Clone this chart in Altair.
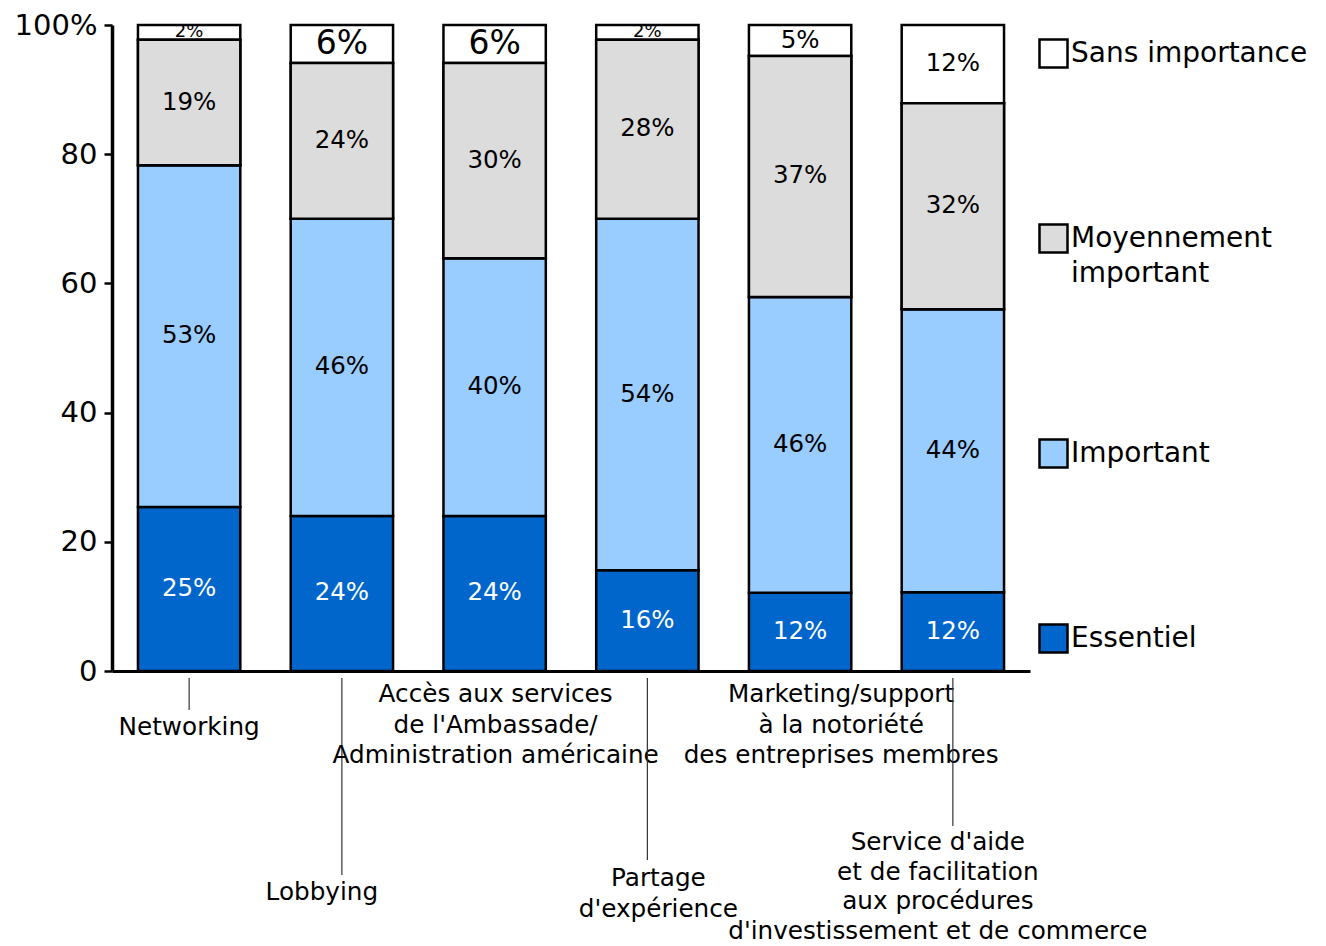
import altair as alt
import pandas as pd

# ---------------- data ----------------
categories = [
    "Networking",
    "Lobbying",
    "Accès aux services\nde l'Ambassade/\nAdministration américaine",
    "Partage\nd'expérience",
    "Marketing/support\nà la notoriété\ndes entreprises membres",
    "Service d'aide\net de facilitation\naux procédures\nd'investissement et de commerce",
]
levels = ["Essentiel", "Important", "Moyennement important", "Sans importance"]
essentiel = [25.4, 24.0, 24.0, 15.6, 12.1, 12.2]
important = [52.9, 46.0, 39.9, 54.4, 45.8, 43.8]
moyen = [19.4, 24.1, 30.2, 27.7, 37.3, 31.9]
sans = [2.3, 5.9, 5.9, 2.3, 4.8, 12.1]
y_ticks = [0, 20, 40, 60, 80, 100]

# ---------------- styles ----------------
FONT = "DejaVu Sans"
level_colors = {"Essentiel": "#0066CC", "Important": "#99CCFF",
                "Moyennement important": "#DCDCDC", "Sans importance": "#FFFFFF"}
top_label_size = [18, 33, 33, 18, 24.5, 24.5]
top_label_dy = [3, 0, 0, 3, 0, 0]
# x label layout: (first-line top in px from plot top, dx, tick end or None, line height)
xlab_layout = [
    (690, 0, 685, 30.5),
    (855, -20, 850, 30.5),
    (657, 1, None, 30.5),
    (841, 11, 835, 30.5),
    (657, 41, None, 30.5),
    (805, -15, 801, 29.5),
]
W, H = 918, 646

# ---------------- table ----------------
series = [essentiel, important, moyen, sans]
rows = []
for ci, cat in enumerate(categories):
    start = 0.0
    for li, lev in enumerate(levels):
        v = series[li][ci]
        end = start + v
        rows.append({
            "cat": cat, "level": lev, "order": li,
            "start": start, "end": end, "mid": start + v / 2,
            "label": f"{round(v)}%",
            "fs": top_label_size[ci] if lev == "Sans importance" else 24.5,
            "dy": top_label_dy[ci] if lev == "Sans importance" else 0,
        })
        start = end
df = pd.DataFrame(rows)

xenc = alt.X("cat:N", sort=categories, title=None,
             scale=alt.Scale(paddingInner=0.33, paddingOuter=0.17))
yscale = alt.Scale(domain=[0, 100], nice=False)

legend = alt.Legend(
    orient="none", legendX=926, legendY=13, title=None,
    symbolType="square", symbolSize=784, symbolStrokeColor="black",
    symbolStrokeWidth=2.5, symbolOpacity=1,
    labelFont=FONT, labelFontSize=28, labelColor="black", labelLimit=400,
    labelOffset=2, rowPadding=146,
    labelExpr="datum.label == 'Moyennement important' ? ['Moyennement', 'important'] : datum.label",
)
color = alt.Color("level:N",
                  scale=alt.Scale(domain=levels[::-1],
                                  range=[level_colors[l] for l in levels[::-1]]),
                  legend=legend)

bars = alt.Chart(df).mark_bar(stroke="black", strokeWidth=2.5, opacity=1).encode(
    x=xenc,
    y=alt.Y("start:Q", scale=yscale, title=None,
            axis=alt.Axis(values=y_ticks, grid=False,
                          labelExpr="datum.value == 100 ? '100%' : datum.label")),
    y2="end:Q",
    color=color,
)

top_text = alt.Chart(df).transform_filter(
    alt.datum.level == "Sans importance"
).mark_text(
    font=FONT, baseline="middle", align="center", color="black"
).encode(
    x=xenc,
    y=alt.Y("mid:Q", scale=yscale, title=None),
    yOffset=alt.YOffset("dy:Q", scale=None),
    text="label:N",
    size=alt.Size("fs:Q", scale=None, legend=None),
)

moyen_redraw = alt.Chart(df).transform_filter(
    alt.datum.level == "Moyennement important"
).mark_bar(stroke="black", strokeWidth=2.5, opacity=1).encode(
    x=xenc,
    y=alt.Y("start:Q", scale=yscale, title=None),
    y2="end:Q",
    color=color,
)

other_text = alt.Chart(df).transform_filter(
    alt.datum.level != "Sans importance"
).mark_text(font=FONT, baseline="middle", align="center").encode(
    x=xenc,
    y=alt.Y("mid:Q", scale=yscale, title=None),
    text="label:N",
    size=alt.Size("fs:Q", scale=None, legend=None),
    color=alt.condition(alt.datum.level == "Essentiel",
                        alt.value("white"), alt.value("black")),
)

layers = [bars, top_text, moyen_redraw, other_text]

for ci, cat in enumerate(categories):
    ytop, dx, tick_end, lh = xlab_layout[ci]
    cdf = pd.DataFrame({"cat": [cat]})
    if tick_end is not None:
        layers.append(
            alt.Chart(cdf).mark_rule(color="#333333", strokeWidth=1.2).encode(
                x=xenc, y=alt.value(653), y2=alt.value(tick_end)
            )
        )
    layers.append(
        alt.Chart(cdf).mark_text(
            font=FONT, fontSize=24.7, lineHeight=lh, lineBreak="\n",
            align="center", baseline="top", dx=dx, color="black"
        ).encode(x=xenc, y=alt.value(ytop), text="cat:N")
    )

chart = alt.layer(*layers).properties(
    width=W, height=H,
    autosize=alt.AutoSizeParams(type="none"),
    padding={"left": 104, "top": 17, "right": 280, "bottom": 275},
).configure(font=FONT, style={"guide-label": {"lineHeight": 35}}).configure_view(
    stroke=None
).configure_axisX(
    labels=False, ticks=False, domainColor="black", domainWidth=3, title=None
).configure_axisY(
    labelFont=FONT, labelFontSize=29, labelColor="black", tickSize=8,
    tickWidth=2.5, tickColor="black", domainWidth=3.5, domainColor="black",
    labelPadding=7,
)

chart.save("out.html", embed_options={"renderer": "svg", "actions": False})
